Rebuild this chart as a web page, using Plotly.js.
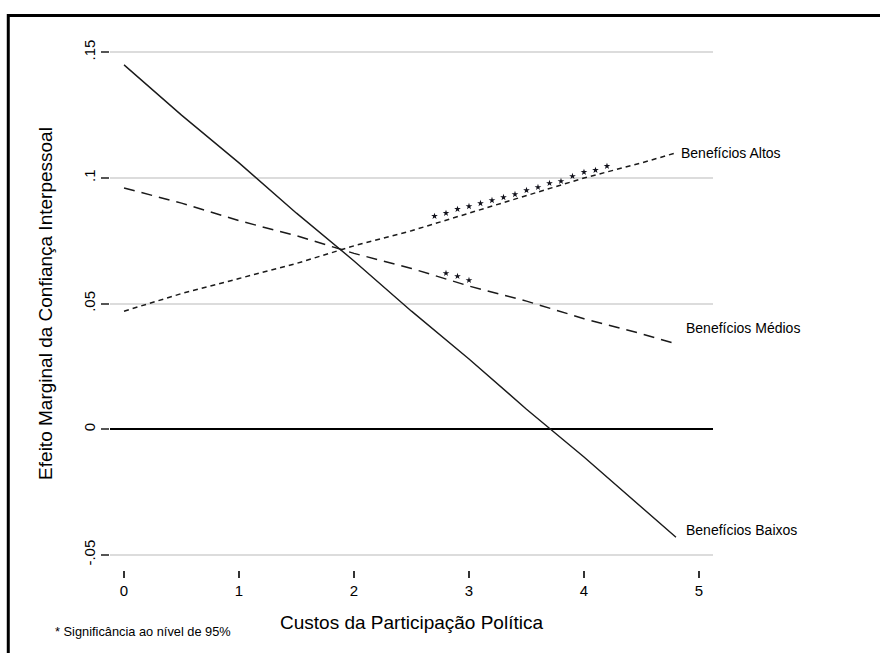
<!DOCTYPE html>
<html>
<head>
<meta charset="utf-8">
<script src="https://cdn.plot.ly/plotly-3.0.1.min.js"></script>
<style>
  html, body { margin: 0; padding: 0; background: #ffffff; }
  #chart { width: 880px; height: 653px; }
</style>
</head>
<body>
<div id="chart"></div>
<script>
// ---- Data ----
const costs = [0, 0.5, 1, 1.5, 2, 2.5, 3, 3.5, 4, 4.5, 4.8];
const altos  = [0.047, 0.054, 0.060, 0.066, 0.073, 0.079, 0.086, 0.093, 0.100, 0.106, 0.110];
const medios = [0.096, 0.090, 0.083, 0.077, 0.070, 0.064, 0.057, 0.051, 0.044, 0.038, 0.034];
const baixos = [0.145, 0.125, 0.106, 0.086, 0.067, 0.047, 0.028, 0.008, -0.011, -0.031, -0.043];

// Significance stars (95%)
const altosStarX = [2.7, 2.8, 2.9, 3.0, 3.1, 3.2, 3.3, 3.4, 3.5, 3.6, 3.7, 3.8, 3.9, 4.0, 4.1, 4.2];
const altosStarY = [0.0848, 0.0860, 0.0876, 0.0887, 0.0899, 0.0911, 0.0923, 0.0935, 0.0951, 0.0963, 0.0979, 0.0987, 0.1007, 0.1023, 0.1031, 0.1047];
const mediosStarX = [2.8, 2.9, 3.0];
const mediosStarY = [0.0621, 0.0609, 0.0593];

const xTickVals = [0, 1, 2, 3, 4, 5];
const xTickText = ['0', '1', '2', '3', '4', '5'];
const yTickVals = [-0.05, 0, 0.05, 0.1, 0.15];
const yTickText = ['-.05', '0', '.05', '.1', '.15'];

const seriesNames = ['Benefícios Altos', 'Benefícios Médios', 'Benefícios Baixos'];
const xTitle = 'Custos da Participação Política';
const yTitle = 'Efeito Marginal da Confiança Interpessoal';
const footnote = '* Significância ao nível de 95%';

// ---- Chart ----
const FONT = '"Liberation Sans", Arial, Helvetica, sans-serif';
const lineColor = '#1a1a1a';
const last = costs.length - 1;

const traces = [
  { x: costs, y: altos, mode: 'lines', name: seriesNames[0],
    line: { color: lineColor, width: 1.5, dash: '5px,4px' }, hoverinfo: 'skip' },
  { x: costs, y: medios, mode: 'lines', name: seriesNames[1],
    line: { color: lineColor, width: 1.5, dash: '11px,7px' }, hoverinfo: 'skip' },
  { x: costs, y: baixos, mode: 'lines', name: seriesNames[2],
    line: { color: lineColor, width: 1.4 }, hoverinfo: 'skip' },
  { x: altosStarX, y: altosStarY, mode: 'markers', name: 'sig altos',
    marker: { symbol: 'star', size: 5, color: '#10101a' }, hoverinfo: 'skip' },
  { x: mediosStarX, y: mediosStarY, mode: 'markers', name: 'sig medios',
    marker: { symbol: 'star', size: 5, color: '#10101a' }, hoverinfo: 'skip' }
];

const layout = {
  width: 880, height: 653,
  margin: { l: 110, r: 167, t: 37, b: 83 },
  paper_bgcolor: '#ffffff', plot_bgcolor: '#ffffff',
  showlegend: false,
  font: { family: FONT, color: '#000000' },
  xaxis: {
    range: [-0.122, 5.122],
    tickvals: xTickVals, ticktext: xTickText,
    ticks: 'outside', ticklen: 7, tickwidth: 1.2, tickcolor: '#333333',
    showgrid: false, zeroline: false, showline: false,
    tickfont: { family: FONT, size: 15, color: '#000000' },
    title: { text: xTitle, font: { family: FONT, size: 19, color: '#000000' }, standoff: 17 },
    automargin: false
  },
  yaxis: {
    range: [-0.0560, 0.1561],
    tickvals: yTickVals, ticktext: yTickText,
    tickangle: -90,
    ticks: 'outside', ticklen: 8, tickwidth: 2, tickcolor: '#555555',
    showgrid: true, gridcolor: '#dcdcdc', gridwidth: 2,
    zeroline: true, zerolinecolor: '#000000', zerolinewidth: 1.8,
    showline: false,
    tickfont: { family: FONT, size: 15, color: '#000000' },
    title: { text: yTitle, font: { family: FONT, size: 19, color: '#000000' }, standoff: 23 },
    automargin: false
  },
  annotations: [
    { x: costs[last], y: altos[last], xref: 'x', yref: 'y', text: seriesNames[0],
      showarrow: false, xanchor: 'left', yanchor: 'middle', xshift: 3, yshift: 0,
      font: { family: FONT, size: 14, color: '#000000' } },
    { x: costs[last], y: medios[last], xref: 'x', yref: 'y', text: seriesNames[1],
      showarrow: false, xanchor: 'left', yanchor: 'middle', xshift: 8, yshift: 16,
      font: { family: FONT, size: 14, color: '#000000' } },
    { x: costs[last], y: baixos[last], xref: 'x', yref: 'y', text: seriesNames[2],
      showarrow: false, xanchor: 'left', yanchor: 'middle', xshift: 8, yshift: 7,
      font: { family: FONT, size: 14, color: '#000000' } },
    { x: -0.0945, y: -0.1163, xref: 'paper', yref: 'paper', text: footnote,
      showarrow: false, xanchor: 'left', yanchor: 'middle',
      font: { family: FONT, size: 12.8, color: '#000000' } }
  ],
  shapes: [
    { type: 'line', xref: 'paper', yref: 'paper', x0: -0.1687, x1: 1.5, y0: 1.0403, y1: 1.0403,
      line: { color: '#000000', width: 3 } },
    { type: 'line', xref: 'paper', yref: 'paper', x0: -0.1687, x1: -0.1687, y0: -0.5, y1: 1.0431,
      line: { color: '#000000', width: 3 } }
  ]
};

Plotly.newPlot('chart', traces, layout, { staticPlot: true, displayModeBar: false });
</script>
</body>
</html>
